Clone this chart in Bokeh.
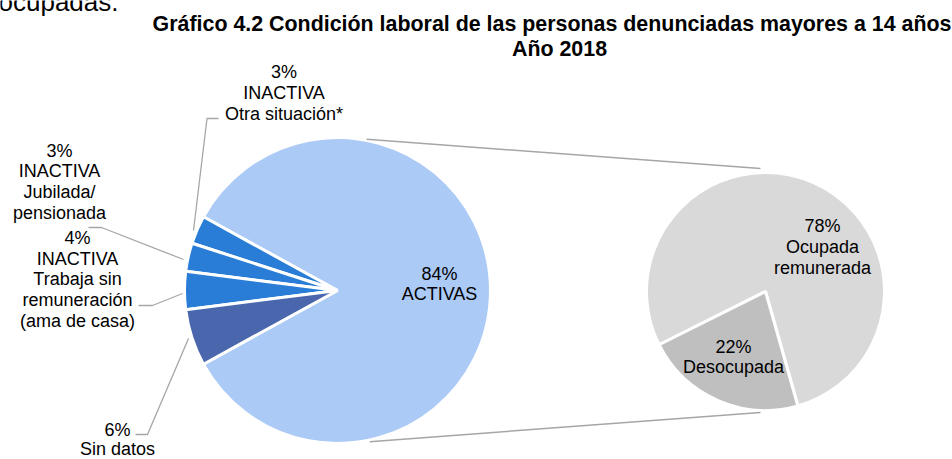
import numpy as np
from bokeh.plotting import figure
from bokeh.models import Range1d
from bokeh.embed import file_html
from bokeh.resources import INLINE
from bokeh.core.properties import value

# ---------------- data ----------------
main_categories = ["ACTIVAS", "INACTIVA Otra situación*", "INACTIVA Jubilada/pensionada",
                   "INACTIVA Trabaja sin remuneración (ama de casa)", "Sin datos"]
main_values = [84, 3, 3, 4, 6]
main_label_text = [["ACTIVAS"], ["INACTIVA", "Otra situación*"], ["INACTIVA", "Jubilada/", "pensionada"],
                   ["INACTIVA", "Trabaja sin", "remuneración", "(ama de casa)"], ["Sin datos"]]
main_colors = ["#ABCAF6", "#2A7DD6", "#2A7DD6", "#2A7DD6", "#4A67AD"]

sub_categories = ["Ocupada remunerada", "Desocupada"]
sub_values = [78, 22]
sub_label_text = [["Ocupada", "remunerada"], ["Desocupada"]]
sub_colors = ["#D9D9D9", "#BFBFBF"]

title_lines = ["Gráfico 4.2 Condición laboral de las personas denunciadas mayores a 14 años", "Año 2018"]

# ---------------- layout (image pixel coordinates, y down) ----------------
W, H = 952, 459
def Y(v):
    return H - v

FONT = value("Liberation Sans")
GREY = "#A6A6A6"

p = figure(width=W, height=H, x_range=Range1d(0, W), y_range=Range1d(0, H),
           output_backend="svg", toolbar_location=None, min_border=0)
p.axis.visible = False
p.grid.visible = False
p.outline_line_color = None
p.background_fill_color = "white"

# main pie
cx1, cy1, r1 = 337, 290, 153
tot = sum(main_values)
fr = np.array(main_values) / tot * 2 * np.pi
start0 = -fr[0] / 2
starts = start0 + np.concatenate([[0], np.cumsum(fr)[:-1]])
ends = starts + fr
p.wedge(x=[cx1] * len(fr), y=[Y(cy1)] * len(fr), radius=r1, start_angle=list(starts), end_angle=list(ends),
        fill_color=main_colors, line_color="white", line_width=3)

# secondary pie
cx2, cy2, r2 = 765, 291, 119
tot2 = sum(sub_values)
fr2 = np.array(sub_values) / tot2 * 2 * np.pi
s0 = np.radians(-74.2)
starts2 = s0 + np.concatenate([[0], np.cumsum(fr2)[:-1]])
ends2 = starts2 + fr2
p.wedge(x=[cx2] * len(fr2), y=[Y(cy2)] * len(fr2), radius=r2, start_angle=list(starts2), end_angle=list(ends2),
        fill_color=sub_colors, line_color="white", line_width=3)

# connector lines between pies
a = np.radians(79)
p.multi_line(xs=[[cx1 + r1 * np.cos(a), cx2 - 5], [cx1 + r1 * np.cos(a) + 3, cx2 - 5]],
             ys=[[Y(cy1) + r1 * np.sin(a) + 1, Y(cy2) + 123], [Y(cy1) - r1 * np.sin(a) - 1, Y(cy2) - 121]],
             line_color=GREY, line_width=1.5)

# leader lines
leaders_x = [[218, 206.5, 193], [88, 101, 183], [138, 152, 182], [135, 147, 188]]
leaders_y = [[118, 118, 230], [227, 227, 259], [305, 305, 293], [434, 434, 338]]
p.multi_line(xs=leaders_x, ys=[[Y(v) for v in row] for row in leaders_y], line_color=GREY, line_width=1.3)

def block(x, y0, lines, step=20.8, size="18px", style="normal", color="#000000"):
    p.text(x=[x] * len(lines), y=[Y(y0 + i * step) for i in range(len(lines))], text=lines,
           text_font=FONT, text_font_size=value(size), text_font_style=style, text_color=color,
           text_align="center", text_baseline="middle")

# labels of main pie
main_pos = [(439, 273), (283.5, 71.5), (59, 150), (77, 237.3), (117, 429)]
for (x, y0), v, lines in zip(main_pos, main_values, main_label_text):
    block(x, y0, [f"{v}%"] + lines, step=(19.5 if v == 6 else 20.8))

# labels of secondary pie
sub_pos = [(822, 225.5), (733, 346)]
for (x, y0), v, lines in zip(sub_pos, sub_values, sub_label_text):
    block(x, y0, [f"{v}%"] + lines)

# title
block(551.5, 23.5, title_lines[:1], size="21.4px", style="bold")
block(559, 48, title_lines[1:], size="21.4px", style="bold")

# text of the surrounding document (cropped at the top)
p.text(x=[-2], y=[Y(1)], text=["ocupadas."], text_font=FONT, text_font_size=value("26px"),
       text_color="#000000", text_align="left", text_baseline="middle")

open("out.html", "w").write(file_html(p, INLINE))
